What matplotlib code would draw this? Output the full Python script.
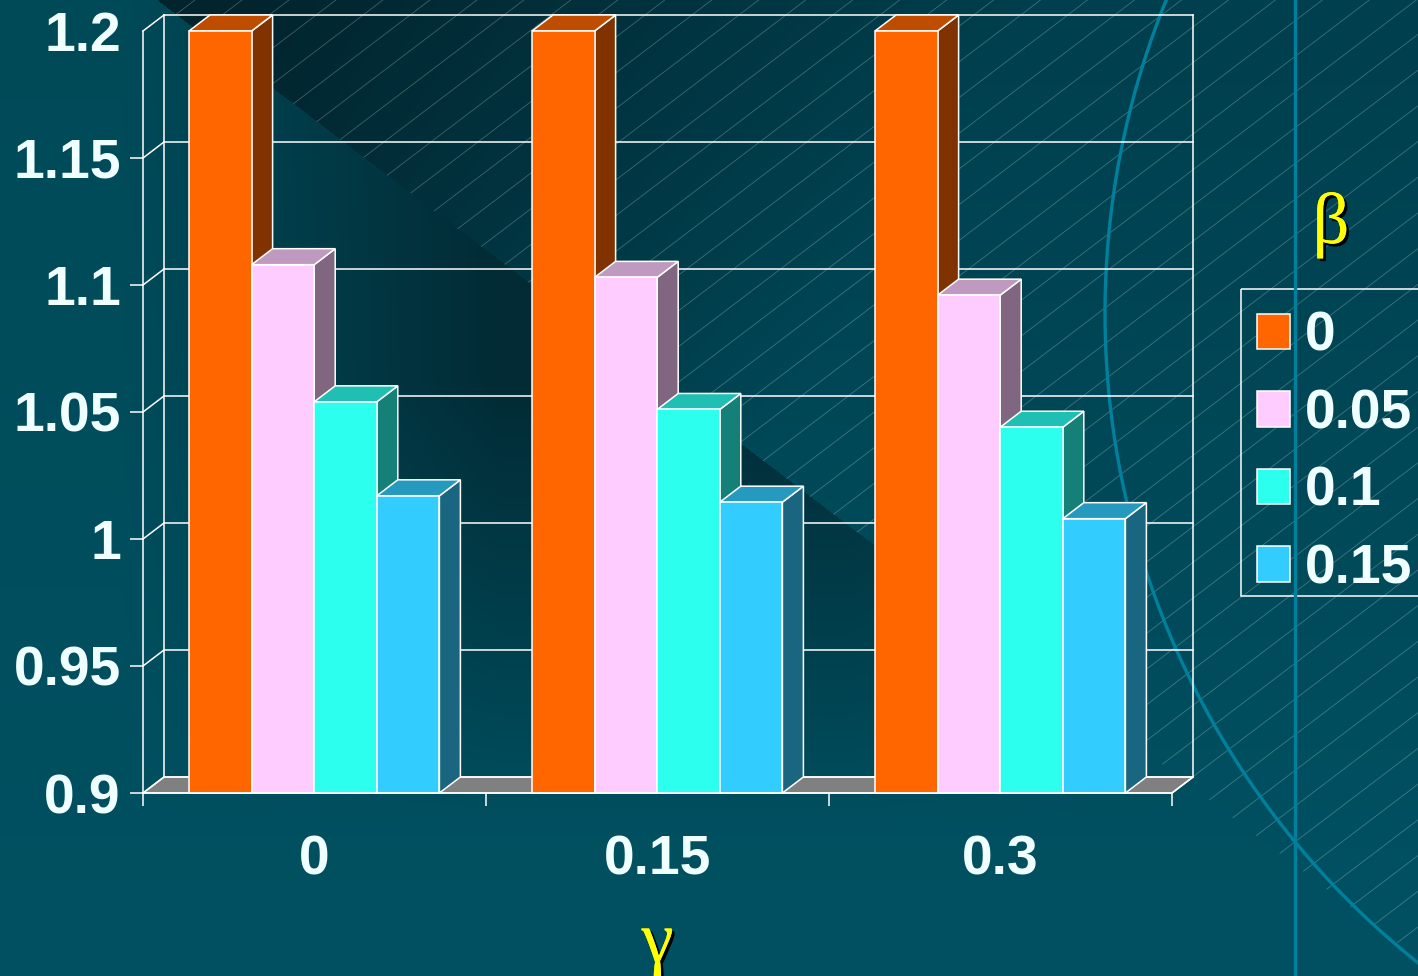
import numpy as np
import matplotlib

matplotlib.use("Agg")
import matplotlib.pyplot as plt
import matplotlib.patheffects as pe
from matplotlib.patches import Patch, Polygon, Rectangle

W, H = 1418, 976

# chart data
gamma_labels = ["0", "0.15", "0.3"]
beta_labels = ["0", "0.05", "0.1", "0.15"]
beta_0 = [1.2, 1.2, 1.2]
beta_005 = [1.108, 1.103, 1.096]
beta_01 = [1.054, 1.051, 1.044]
beta_015 = [1.017, 1.0145, 1.008]
y_ticks = [0.9, 0.95, 1.0, 1.05, 1.1, 1.15, 1.2]
y_tick_labels = ["0.9", "0.95", "1", "1.05", "1.1", "1.15", "1.2"]

series = [beta_0, beta_005, beta_01, beta_015]
front_colors = ["#ff6600", "#ffccff", "#2dffef", "#33ccff"]
top_colors = ["#bf4d00", "#bf99bf", "#20bfb3", "#2699bf"]
side_colors = ["#803300", "#806680", "#158078", "#1a6680"]

LINE = "#ffffff"
TEXT = "#f0ffff"
ACCENT = "#00809c"
FONT = "Liberation Sans"
SERIF = "Liberation Serif"
SIZE = 39.8


def lerp(a, b, t):
    return a + (b - a) * t[..., None]


def rgb(code):
    return np.array(matplotlib.colors.to_rgb(code))


def diagonal(x):
    return 88 + 0.76 * (x - 273)


def make_background():
    yy, xx = np.mgrid[0:H, 0:W]
    v = yy / H
    lower = lerp(rgb("#004a58"), rgb("#005162"), v)
    upper = lerp(rgb("#003f4d"), rgb("#005061"), np.clip(v * 1.15, 0, 1))

    # region above the diagonal fades out of the dark corner
    t_up = np.clip((xx + 0.6 * yy - 230) / 800, 0, 1)
    img_up = lerp(rgb("#02242d"), upper, t_up)

    # region below the diagonal darkens with height and towards the middle
    fade = np.clip((830 - yy) / 450, 0, 1)
    ramp = np.clip((xx - 120) / 380, 0, 1) * np.clip((1200 - xx) / 350, 0, 1)
    img_low = lerp(lower, rgb("#022b35"), fade * ramp)

    return np.where((yy < diagonal(xx))[..., None], img_up, img_low)


fig = plt.figure(figsize=(W / 100, H / 100), dpi=100)

# backdrop with hatching, arc and vertical rule
bg = fig.add_axes([0, 0, 1, 1], zorder=0)
bg.imshow(make_background(), extent=(0, W, H, 0), aspect="auto", interpolation="bilinear")
for c in np.arange(1719 - 35.7 * 45, 2500, 35.7):
    x0 = (c + 119.5) / 1.52
    x1 = min(W, c / 0.76)
    if x0 < x1:
        bg.plot([x0, x1], [c - 0.76 * x0, c - 0.76 * x1], color="#ffffff", alpha=0.25, lw=0.6)
theta = np.linspace(0, 2 * np.pi, 720)
bg.plot(1936 + 831 * np.cos(theta), 313 + 831 * np.sin(theta), color=ACCENT, lw=2.4)
bg.plot([1295, 1295], [0, H], color=ACCENT, lw=2.4)
bg.set_xlim(0, W)
bg.set_ylim(H, 0)
bg.axis("off")

# front plane of the chart box
ax = fig.add_axes([143 / W, 1 - 793 / H, 1029 / W, 762 / H], zorder=1)
ax.patch.set_alpha(0)
ax.set_xlim(0, 3)
ax.set_ylim(0.9, 1.2)

depth_x = 21 / 1029 * 3
depth_y = 16 / 762 * 0.3
lw = 1.1
base = y_ticks[0]
top = y_ticks[-1]

# floor and walls behind the bars
ax.add_patch(Polygon([(0, base), (depth_x, base + depth_y), (3 + depth_x, base + depth_y), (3, base)],
                     facecolor="#808080", edgecolor=LINE, lw=lw, clip_on=False, zorder=1))
for v in y_ticks:
    ax.plot([0, depth_x], [v, v + depth_y], color=LINE, lw=lw, clip_on=False, zorder=1)
    ax.plot([depth_x, 3 + depth_x], [v + depth_y, v + depth_y], color=LINE, lw=lw, clip_on=False, zorder=1)
ax.plot([3, 3 + depth_x], [base, base + depth_y], color=LINE, lw=lw, clip_on=False, zorder=1)
for wall_x in (depth_x, 3 + depth_x):
    ax.plot([wall_x, wall_x], [base + depth_y, top + depth_y], color=LINE, lw=lw, clip_on=False, zorder=1)

# bars, each one with its side and top faces
bar_w = 62.6 / 343
margin = 46 / 343
for j, values in enumerate(series):
    z = 3 + j
    for i, val in enumerate(values):
        left = i + margin + j * bar_w
        right = left + bar_w
        ax.add_patch(Polygon([(right, base), (right + depth_x, base + depth_y),
                              (right + depth_x, val + depth_y), (right, val)],
                             facecolor=side_colors[j], edgecolor=LINE, lw=lw, clip_on=False, zorder=z))
        ax.add_patch(Polygon([(left, val), (left + depth_x, val + depth_y),
                              (right + depth_x, val + depth_y), (right, val)],
                             facecolor=top_colors[j], edgecolor=LINE, lw=lw, clip_on=False, zorder=z))
    lefts = [i + margin + j * bar_w for i in range(len(values))]
    ax.bar(lefts, np.array(values) - base, width=bar_w, bottom=base, align="edge",
           color=front_colors[j], edgecolor=LINE, lw=lw, clip_on=False, zorder=z + 0.5)

for side in ("top", "right"):
    ax.spines[side].set_visible(False)
for side in ("left", "bottom"):
    ax.spines[side].set_color(LINE)
    ax.spines[side].set_linewidth(lw)
    ax.spines[side].set_zorder(10)

ax.set_yticks(y_ticks, labels=y_tick_labels)
ax.yaxis.get_major_ticks()[-1].tick1line.set_visible(False)
ax.set_xticks([0, 1, 2, 3], labels=[])
ax.set_xticks([0.5, 1.5, 2.5], labels=gamma_labels, minor=True)
ax.tick_params(axis="y", length=9.5, width=lw, color=LINE, pad=6.5)
ax.tick_params(axis="x", which="major", length=9.5, width=lw, color=LINE)
ax.tick_params(axis="x", which="minor", length=0, pad=30)
for label in ax.get_yticklabels() + ax.get_xticklabels(minor=True):
    label.set_fontfamily(FONT)
    label.set_fontweight("bold")
    label.set_fontsize(SIZE)
    label.set_color(TEXT)

shadow = [pe.withSimplePatchShadow(offset=(2, -2), shadow_rgbFace="black", alpha=1), pe.Normal()]
ax.set_xlabel("γ", family=SERIF, fontsize=52, color="#ffff00", labelpad=18, path_effects=shadow)
fig.text(1331 / W, 1 - 225 / H, "β", family=SERIF, fontsize=52, color="#ffff00",
         ha="center", va="center", path_effects=shadow, zorder=5)

# legend box runs off the right edge of the figure
bg.add_patch(Rectangle((1241, 289), 200, 307, facecolor="none", edgecolor=LINE, lw=lw))
handles = [Patch(facecolor=c, edgecolor=LINE, lw=lw, label=t) for c, t in zip(front_colors, beta_labels)]
legend = ax.legend(handles=handles, loc="upper left", bbox_to_anchor=(1256.5 / W, 1 - 311 / H),
                   bbox_transform=fig.transFigure, borderaxespad=0, borderpad=0,
                   handlelength=0.61, handleheight=0.61, handletextpad=0.26, labelspacing=0.46,
                   prop={"family": FONT, "weight": "bold", "size": SIZE}, labelcolor=TEXT,
                   frameon=False)
legend.set_zorder(20)

fig.savefig("out.png", dpi=100)
